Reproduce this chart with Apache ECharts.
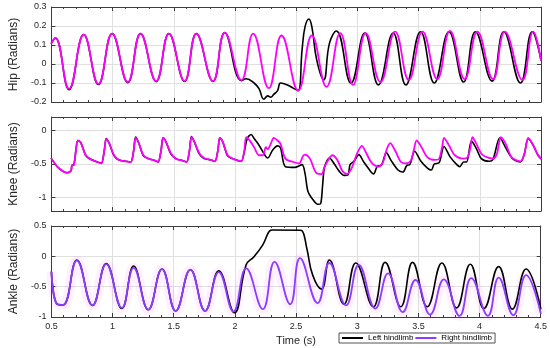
<!DOCTYPE html>
<html><head><meta charset="utf-8">
<script src="https://cdn.jsdelivr.net/npm/echarts@6/dist/echarts.min.js"></script>
<style>html,body{margin:0;padding:0;background:#fff}#c{width:550px;height:348px}</style>
</head><body><div id="c"></div>
<script>
// ---------- data: [time (s), angle (rad)] ----------
const hipLeft = [[0.5,0.11],[0.532,0.137],[0.644,-0.135],[0.764,0.155],[0.884,-0.108],[0.996,0.16],[1.124,-0.098],[1.228,0.16],[1.356,-0.093],[1.46,0.16],[1.588,-0.092],[1.684,0.16],[1.82,-0.092],[1.916,0.165],[2.052,-0.088],[2.092,-0.078],[2.156,-0.1],[2.196,-0.13],[2.236,-0.185],[2.268,-0.168],[2.292,-0.175],[2.316,-0.16],[2.348,-0.14],[2.372,-0.1],[2.428,-0.11],[2.476,-0.127],[2.516,-0.14],[2.548,0.074],[2.572,0.195],[2.604,0.237],[2.628,0.195],[2.668,0.02],[2.724,-0.084],[2.772,0.11],[2.828,0.174],[2.948,-0.1],[3.06,0.163],[3.172,-0.11],[3.292,0.163],[3.396,-0.11],[3.516,0.17],[3.628,-0.1],[3.748,0.17],[3.868,-0.095],[3.964,0.17],[4.1,-0.09],[4.196,0.17],[4.332,-0.1],[4.428,0.17],[4.5,0.02]];
const hipRight = [[0.5,0.11],[0.532,0.137],[0.644,-0.13],[0.764,0.155],[0.884,-0.105],[0.996,0.16],[1.124,-0.095],[1.228,0.16],[1.356,-0.09],[1.46,0.16],[1.588,-0.09],[1.684,0.16],[1.82,-0.09],[1.916,0.165],[2.052,-0.085],[2.148,0.16],[2.276,-0.127],[2.38,0.15],[2.516,-0.14],[2.628,0.15],[2.748,-0.12],[2.86,0.163],[2.964,-0.11],[3.068,0.163],[3.188,-0.095],[3.308,0.17],[3.42,-0.084],[3.532,0.17],[3.652,-0.08],[3.756,0.174],[3.876,-0.08],[3.98,0.17],[4.108,-0.08],[4.204,0.17],[4.348,-0.084],[4.436,0.17],[4.5,0.02]];

const kneeLeft = [[0.5,-0.42],[0.548,-0.54],[0.596,-0.61],[0.628,-0.63],[0.66,-0.6],[0.668,-0.52],[0.684,-0.51],[0.7,-0.3],[0.716,-0.15],
[0.74,-0.18],[0.78,-0.37],[0.82,-0.43],[0.876,-0.47],[0.908,-0.49],[0.932,-0.3],[0.948,-0.12],
[0.972,-0.19],[1.012,-0.38],[1.052,-0.44],[1.108,-0.46],[1.148,-0.47],[1.172,-0.3],[1.188,-0.1],
[1.212,-0.18],[1.252,-0.38],[1.292,-0.42],[1.348,-0.45],[1.372,-0.47],[1.396,-0.3],[1.412,-0.11],
[1.436,-0.17],[1.476,-0.35],[1.516,-0.42],[1.572,-0.45],[1.604,-0.47],[1.628,-0.3],[1.644,-0.09],
[1.668,-0.17],[1.708,-0.35],[1.748,-0.42],[1.804,-0.44],[1.836,-0.46],[1.86,-0.3],[1.876,-0.11],
[1.9,-0.17],[1.94,-0.38],[1.98,-0.42],[2.028,-0.45],[2.052,-0.46],[2.076,-0.32],[2.1,-0.12],[2.132,-0.06],[2.156,-0.12],[2.196,-0.22],[2.252,-0.39],[2.268,-0.41],[2.308,-0.29],[2.348,-0.23],[2.372,-0.26],[2.412,-0.54],[2.492,-0.55],[2.548,-0.51],[2.572,-0.64],[2.596,-0.91],[2.636,-1.03],[2.676,-1.1],[2.7,-1.09],[2.716,-0.81],[2.732,-0.54],[2.772,-0.41],[2.812,-0.5],[2.852,-0.61],[2.892,-0.67],[2.924,-0.66],[2.94,-0.51],[2.972,-0.46],[3.012,-0.36],[3.052,-0.47],[3.108,-0.61],[3.132,-0.65],[3.164,-0.53],[3.196,-0.52],[3.236,-0.33],[3.276,-0.45],[3.332,-0.59],[3.372,-0.62],[3.404,-0.52],[3.428,-0.51],[3.468,-0.31],[3.516,-0.45],[3.572,-0.56],[3.604,-0.59],[3.628,-0.5],[3.668,-0.48],[3.708,-0.24],[3.756,-0.39],[3.812,-0.51],[3.836,-0.54],[3.868,-0.47],[3.892,-0.47],[3.932,-0.16],[3.972,-0.27],[4.012,-0.42],[4.076,-0.46],[4.108,-0.43],[4.164,-0.11],[4.212,-0.26],[4.268,-0.42],[4.332,-0.47],[4.364,-0.35],[4.396,-0.12],[4.436,-0.22],[4.476,-0.37],[4.5,-0.42]];
const kneeRight = [[0.5,-0.42],[0.548,-0.54],[0.596,-0.61],[0.628,-0.63],[0.66,-0.6],[0.668,-0.52],[0.684,-0.51],[0.7,-0.3],[0.716,-0.15],
[0.74,-0.18],[0.78,-0.37],[0.82,-0.43],[0.876,-0.47],[0.908,-0.49],[0.932,-0.3],[0.948,-0.13],
[0.972,-0.19],[1.012,-0.37],[1.052,-0.44],[1.108,-0.46],[1.148,-0.47],[1.172,-0.3],[1.188,-0.11],
[1.212,-0.18],[1.252,-0.37],[1.292,-0.42],[1.348,-0.45],[1.372,-0.47],[1.396,-0.3],[1.412,-0.11],
[1.436,-0.17],[1.476,-0.34],[1.516,-0.42],[1.572,-0.45],[1.604,-0.47],[1.628,-0.3],[1.644,-0.1],
[1.668,-0.17],[1.708,-0.34],[1.748,-0.41],[1.804,-0.44],[1.836,-0.46],[1.86,-0.3],[1.876,-0.11],
[1.9,-0.17],[1.94,-0.37],[1.98,-0.42],[2.028,-0.45],[2.052,-0.46],[2.076,-0.3],[2.092,-0.1],
[2.124,-0.16],[2.156,-0.25],[2.196,-0.37],[2.228,-0.37],[2.252,-0.25],[2.268,-0.28],[2.292,-0.2],[2.316,-0.11],
[2.348,-0.15],[2.372,-0.2],[2.412,-0.42],[2.476,-0.47],[2.524,-0.49],[2.556,-0.38],[2.572,-0.36],[2.612,-0.42],[2.652,-0.6],[2.668,-0.64],[2.708,-0.65],[2.732,-0.54],[2.796,-0.37],[2.836,-0.44],[2.876,-0.6],[2.916,-0.65],[2.956,-0.55],[2.996,-0.35],[3.036,-0.23],[3.076,-0.35],[3.116,-0.48],[3.172,-0.54],[3.212,-0.46],[3.236,-0.3],[3.268,-0.19],[3.308,-0.3],[3.356,-0.47],[3.396,-0.49],[3.436,-0.45],[3.46,-0.3],[3.484,-0.15],[3.524,-0.25],[3.572,-0.4],[3.636,-0.44],[3.668,-0.42],[3.692,-0.25],[3.708,-0.11],[3.748,-0.22],[3.796,-0.37],[3.868,-0.42],[3.9,-0.4],[3.924,-0.25],[3.94,-0.1],[3.972,-0.2],[4.02,-0.36],[4.108,-0.42],[4.14,-0.35],[4.156,-0.2],[4.172,-0.1],[4.212,-0.2],[4.26,-0.4],[4.332,-0.46],[4.364,-0.35],[4.38,-0.2],[4.396,-0.11],[4.436,-0.22],[4.476,-0.37],[4.5,-0.42]];

const ankleLeft = [[0.5,-0.26],[0.548,-0.79],[0.596,-0.8],[0.708,-0.06],[0.836,-0.81],[0.948,-0.12],[1.076,-0.86],[1.172,-0.16],[1.292,-0.88],[1.404,-0.21],[1.516,-0.9],[1.636,-0.22],[1.756,-0.9],[1.868,-0.24],[1.996,-0.93],[2.092,-0.14],[2.156,-0.005],[2.228,0.19],[2.292,0.43],[2.31,0.435],[2.53,0.43],[2.548,0.425],[2.588,0.13],[2.636,-0.31],[2.708,-0.54],[2.772,-0.06],[2.892,-0.79],[2.988,-0.11],[3.132,-0.83],[3.228,-0.1],[3.356,-0.83],[3.452,-0.1],[3.572,-0.83],[3.692,-0.11],[3.812,-0.85],[3.924,-0.13],[4.036,-0.86],[4.156,-0.17],[4.268,-0.87],[4.38,-0.21],[4.5,-0.86]];
const ankleRight = [[0.5,-0.26],[0.548,-0.79],[0.596,-0.8],[0.708,-0.07],[0.836,-0.81],[0.948,-0.13],[1.076,-0.85],[1.172,-0.19],[1.292,-0.88],[1.404,-0.21],[1.516,-0.9],[1.636,-0.22],[1.756,-0.9],[1.868,-0.26],[1.988,-0.91],[2.092,-0.2],[2.228,-0.87],[2.324,-0.09],[2.452,-0.79],[2.532,-0.03],[2.676,-0.77],[2.772,-0.11],[2.908,-0.81],[3.012,-0.14],[3.148,-0.86],[3.252,-0.28],[3.372,-0.92],[3.476,-0.39],[3.596,-0.96],[3.708,-0.38],[3.836,-0.98],[3.932,-0.36],[4.068,-0.98],[4.156,-0.35],[4.276,-0.97],[4.38,-0.31],[4.5,-0.94]];

const yTitles = ['Hip (Radians)', 'Knee (Radians)', 'Ankle (Radians)'];
const yMins = [-0.2, -1.2, -1];
const yMaxs = [0.3, 0.2, 0.5];
const kneeTicks = [-1, -0.5, 0];
const xTitle = 'Time (s)';
const legendNames = ['Left hindlimb', 'Right hindlimb'];

// ---------- styling ----------
const FONT = '"Liberation Sans", Arial, Helvetica, sans-serif';
const AX = '#3c3c3c';
const GRIDC = '#e0e0e0';
const TXT = '#262626';
const BLACK = '#000000';
const MAGENTA = '#ff00ff';
const PURPLE = '#8a3cff';
const BAND = 'rgba(255,0,255,0.06)';

const grids = [
  {left: 41, top: 7, width: 500, height: 95},
  {left: 41, top: 117, width: 500, height: 94},
  {left: 41, top: 226, width: 500, height: 91}
];

const xAxes = [], yAxes = [];
for (let i = 0; i < 3; i++) {
  const common = {type: 'value', gridIndex: i, min: 0.5, max: 4.5, interval: 0.5};
  xAxes.push(Object.assign({}, common, {
    position: 'bottom',
    axisLine: {show: true, onZero: false, lineStyle: {color: AX, width: 1}},
    axisTick: {show: true, inside: true, length: 4, lineStyle: {color: AX}},
    minorTick: {show: true, splitNumber: 5, length: 2, lineStyle: {color: AX}},
    axisLabel: {show: i === 2, fontSize: 9, color: TXT, fontFamily: FONT, margin: 5, showMinLabel: true, showMaxLabel: true},
    splitLine: {show: true, lineStyle: {color: GRIDC, width: 1}},
    minorSplitLine: {show: false},
    name: i === 2 ? xTitle : '', nameLocation: 'middle', nameGap: 18,
    nameTextStyle: {fontSize: 11, color: TXT, fontFamily: FONT}
  }));
  xAxes.push(Object.assign({}, common, {
    position: 'top',
    axisLine: {show: true, onZero: false, lineStyle: {color: AX, width: 1}},
    axisTick: {show: true, inside: true, length: 4, lineStyle: {color: AX}},
    minorTick: {show: true, splitNumber: 5, length: 2, lineStyle: {color: AX}},
    axisLabel: {show: false}, splitLine: {show: false}
  }));
  const yc = {type: 'value', gridIndex: i, min: yMins[i], max: yMaxs[i]};
  if (i !== 1) yc.interval = i === 0 ? 0.1 : 0.5;
  const leftY = Object.assign({}, yc, {
    position: 'left',
    axisLine: {show: true, onZero: false, lineStyle: {color: AX, width: 1}},
    axisTick: {show: true, inside: true, length: 4, lineStyle: {color: AX}},
    axisLabel: {show: true, fontSize: 9, color: TXT, fontFamily: FONT, margin: 5, showMinLabel: true, showMaxLabel: true},
    splitLine: {show: true, lineStyle: {color: GRIDC, width: 1}},
    name: yTitles[i], nameLocation: 'middle', nameGap: 23,
    nameTextStyle: {fontSize: 12, color: TXT, fontFamily: FONT}
  });
  const rightY = Object.assign({}, yc, {
    position: 'right',
    axisLine: {show: true, onZero: false, lineStyle: {color: AX, width: 1}},
    axisTick: {show: true, inside: true, length: 4, lineStyle: {color: AX}},
    axisLabel: {show: false}, splitLine: {show: false}
  });
  if (i === 1) {
    leftY.axisTick.customValues = kneeTicks;
    leftY.axisLabel.customValues = kneeTicks;
    rightY.axisTick.customValues = kneeTicks;
  }
  yAxes.push(leftY, rightY);
}

function line(name, data, color, panel, width, smooth, z) {
  return {
    name, type: 'line', data, xAxisIndex: 2 * panel, yAxisIndex: 2 * panel,
    symbol: 'none', showSymbol: false, smooth, silent: true, z,
    lineStyle: {color, width, cap: 'round', join: 'round'}, itemStyle: {color}
  };
}

const bandSeries = line('Right band', ankleRight, BAND, 2, 10, 0.45, 2);
bandSeries.lineStyle.cap = 'butt';

const series = [
  line('Left hip', hipLeft, BLACK, 0, 1.6, 0.45, 3),
  line('Right hip', hipRight, MAGENTA, 0, 1.8, 0.45, 4),
  line('Left knee', kneeLeft, BLACK, 1, 1.6, 0.3, 3),
  line('Right knee', kneeRight, MAGENTA, 1, 1.8, 0.3, 4),
  bandSeries,
  line(legendNames[0], ankleLeft, BLACK, 2, 1.6, 0.45, 3),
  line(legendNames[1], ankleRight, PURPLE, 2, 1.8, 0.45, 4)
];

const chart = echarts.init(document.getElementById('c'), null, {renderer: 'canvas'});
chart.setOption({
  animation: false,
  backgroundColor: '#ffffff',
  grid: grids,
  xAxis: xAxes,
  yAxis: yAxes,
  legend: {
    data: legendNames, left: 339, top: 333, orient: 'horizontal',
    icon: 'rect', itemWidth: 21, itemHeight: 2, itemGap: 2, padding: [1, 3],
    borderColor: '#262626', borderWidth: 0.8, backgroundColor: '#ffffff',
    textStyle: {fontSize: 8, fontFamily: FONT, color: '#000'}, selectedMode: false
  },
  series
});
</script>
</body></html>
